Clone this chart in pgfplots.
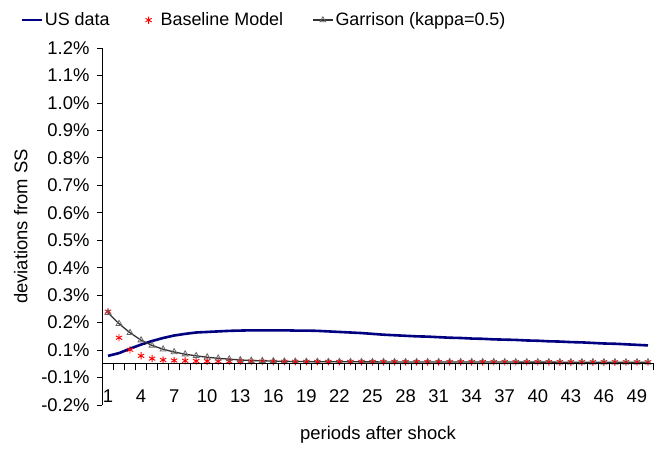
\documentclass[border=0pt]{standalone}
\usepackage{fontspec}
\setmainfont{Liberation Sans}
\usepackage{pgfplots}
\usepackage{pgfplotstable}
\pgfplotsset{compat=1.18}

\definecolor{usblue}{HTML}{000080}
\definecolor{garrline}{HTML}{333333}
\definecolor{garrmark}{HTML}{666666}

% impulse responses, percent deviation from steady state
\pgfplotstableread{
t us base garr
1 0.029 0.190 0.186
2 0.039 0.095 0.146
3 0.055 0.051 0.113
4 0.070 0.029 0.086
5 0.083 0.019 0.067
6 0.094 0.014 0.053
7 0.103 0.012 0.043
8 0.109 0.011 0.035
9 0.114 0.010 0.029
10 0.116 0.0095 0.024
11 0.118 0.009 0.020
12 0.120 0.0085 0.017
13 0.121 0.008 0.014
14 0.122 0.008 0.012
15 0.122 0.0078 0.011
16 0.122 0.0076 0.010
17 0.122 0.0075 0.009
18 0.121 0.0074 0.0085
19 0.121 0.0073 0.008
20 0.120 0.0072 0.0077
21 0.118 0.0071 0.0075
22 0.116 0.0070 0.0073
23 0.114 0.0070 0.0072
24 0.112 0.0069 0.0071
25 0.109 0.0069 0.0070
26 0.106 0.0068 0.0069
27 0.104 0.0068 0.0068
28 0.102 0.0067 0.0067
29 0.100 0.0067 0.0067
30 0.099 0.0066 0.0066
31 0.097 0.0066 0.0066
32 0.095 0.0065 0.0065
33 0.094 0.0065 0.0065
34 0.092 0.0064 0.0064
35 0.091 0.0064 0.0064
36 0.089 0.0063 0.0063
37 0.088 0.0063 0.0063
38 0.087 0.0062 0.0062
39 0.085 0.0062 0.0062
40 0.084 0.0061 0.0061
41 0.082 0.0061 0.0061
42 0.081 0.0060 0.0060
43 0.079 0.0060 0.0060
44 0.078 0.0060 0.0060
45 0.076 0.0059 0.0059
46 0.074 0.0059 0.0059
47 0.073 0.0058 0.0058
48 0.071 0.0058 0.0058
49 0.069 0.0058 0.0058
50 0.067 0.0057 0.0057
}\irf

\begin{document}
\begin{tikzpicture}
% main axis: y axis, data and legend
\begin{axis}[
    at={(0,0)}, anchor=south west,
    scale only axis, width=551bp, height=357bp,
    font=\fontsize{18.5}{22}\selectfont,
    xmin=0.5, xmax=50.5, ymin=-0.15, ymax=1.15,
    axis x line=none, axis y line*=left,
    axis line style={black, line width=0.8bp},
    tick align=outside, major tick length=5.5bp,
    tick style={black, line width=0.8bp},
    ytick={-0.15,-0.05,0.05,0.15,0.25,0.35,0.45,0.55,0.65,0.75,0.85,0.95,1.05,1.15},
    yticklabels={-0.2\%,-0.1\%,0.1\%,0.2\%,0.3\%,0.4\%,0.5\%,0.6\%,0.7\%,0.8\%,0.9\%,1.0\%,1.1\%,1.2\%},
    tick label style={font=\fontsize{18.5}{22}\selectfont},
    yticklabel style={anchor=east, xshift=-4bp},
    ylabel={deviations from SS},
    ylabel style={at={(axis description cs:-0.1485,0.5)}, anchor=center},
    legend columns=-1,
    legend style={draw=none, fill=none, inner sep=0pt,
        at={(axis description cs:-0.1497,1.078)}, anchor=west,
        font=\fontsize{18}{22}\selectfont,
        nodes={inner xsep=2bp},
        /tikz/every even column/.append style={column sep=27bp}},
    legend image code/.code={\path[draw=none, fill=none] (0bp,-1bp) rectangle (20bp,1bp);
        \draw[mark repeat=2,mark phase=2,#1]
        plot coordinates {(0bp,0bp) (10bp,0bp) (20bp,0bp)};},
]
\addplot[usblue, line width=2.6bp] table[x=t, y=us] {\irf};
\addlegendentry{US data}
\addplot[only marks, red, mark=asterisk, mark size=3.6bp, line width=0.9bp] table[x=t, y=base] {\irf};
\addlegendentry{Baseline Model}
\addplot[garrline, line width=1.3bp, mark=triangle, mark size=3.4bp,
    mark options={draw=garrmark, fill=white, line width=0.8bp}] table[x=t, y=garr] {\irf};
\addlegendentry{Garrison (kappa=0.5)}
\end{axis}
% category axis crossing at zero
\begin{axis}[
    at={(0,41.19bp)}, anchor=south west,
    scale only axis, width=551bp, height=315.81bp,
    font=\fontsize{18.5}{22}\selectfont,
    xmin=0.5, xmax=50.5, ymin=0, ymax=1.15,
    axis x line*=bottom, axis y line=none,
    axis line style={black, line width=1bp},
    tick align=outside, major tick length=0pt, minor tick length=6.5bp,
    tick style={black, line width=1bp},
    minor tick style={black, line width=1bp},
    xtick={1,4,...,49}, minor xtick={0.5,1.5,...,50.5},
    /pgf/number format/assume math mode=true,
    tick label style={font=\fontsize{18.5}{22}\selectfont},
    xticklabel style={anchor=north, yshift=-22bp},
    xlabel={periods after shock},
    xlabel style={at={(axis description cs:0.5,-0.2255)}, anchor=center},
]
\end{axis}
\path (-102.5bp,-46bp) rectangle (559.5bp,405bp);
\end{tikzpicture}
\end{document}
